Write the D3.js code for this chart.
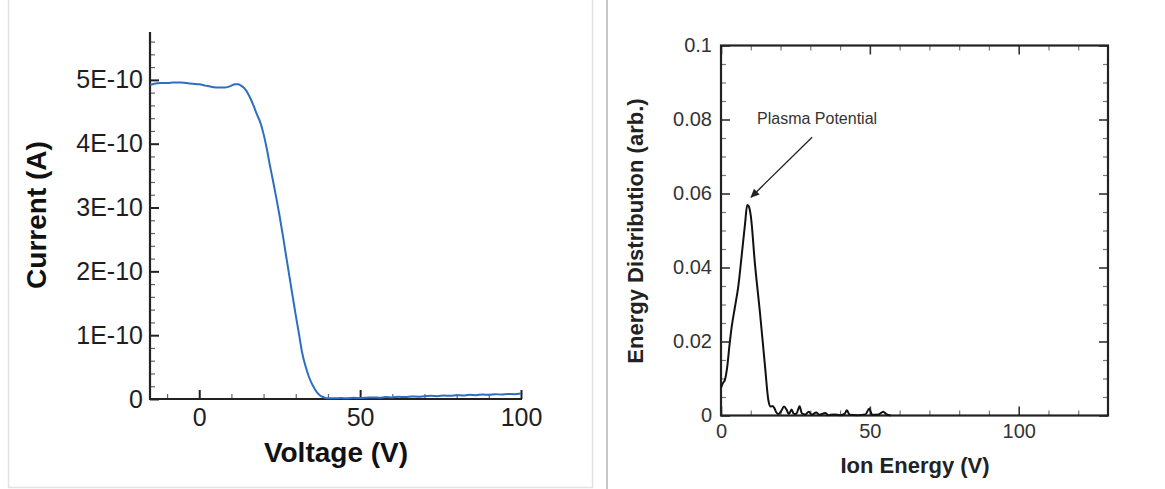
<!DOCTYPE html>
<html>
<head>
<meta charset="utf-8">
<script src="https://cdn.jsdelivr.net/npm/d3@7"></script>
<style>
  html, body { margin: 0; padding: 0; background: #fff; }
  svg { display: block; }
  text { font-family: "Liberation Sans", Arial, Helvetica, sans-serif; }
</style>
</head>
<body>
<script>
// ---- Retarding potential analyzer sweep: collector current vs. voltage ----
const voltage = [-15.3,-14,-12,-10,-8,-6,-4,-2,0,2,4,6,8,
  9,10,11,12,13,14,15,16,17,18,19,20,21,22,23,24,25,26,27,28,29,30,31,32,33,34,35,36,37,38,39,40,
  42,44,46,48,50,52,54,56,58,60,62,64,66,68,70,72,74,76,78,80,82,84,86,88,90,92,94,96,98,100];
// current in units of 1E-10 A
const current = [4.92,4.94,4.95,4.95,4.96,4.96,4.95,4.94,4.93,4.91,4.89,4.88,4.88,
  4.89,4.91,4.93,4.93,4.91,4.87,4.80,4.70,4.58,4.45,4.33,4.15,3.92,3.65,3.40,3.14,2.86,2.56,2.24,1.93,1.62,1.31,1.02,0.72,0.52,0.36,0.24,0.15,0.08,0.04,0.02,0.01,
  0.01,0.015,0.01,0.02,0.015,0.02,0.025,0.02,0.03,0.025,0.035,0.03,0.04,0.035,0.045,0.05,0.045,0.055,0.05,0.06,0.055,0.065,0.06,0.07,0.065,0.075,0.07,0.08,0.075,0.085];
const currentTicks = [0,1,2,3,4,5];
const currentTickLabels = ["0","1E-10","2E-10","3E-10","4E-10","5E-10"];
const voltageTicks = [0,50,100];

// ---- Ion energy distribution (derivative of the sweep) ----
const energy = [0,0.6,1.3,2.1,2.8,3.6,4.7,5.8,6.9,8.1,
  8.8,9.3,10.0,11.4,13.1,14.8,15.9,16.7,17.3,17.9,
  18.6,19.3,20.2,21.2,22.0,22.8,23.7,24.5,25.4,26.4,
  27.2,28.3,29.5,30.5,32.0,33.0,35.0,36.0,38.0,40.0,
  41.5,42.3,43.2,46.0,48.5,49.8,50.8,53.0,54.5,55.5,57.0];
const distribution = [0.0075,0.0087,0.0096,0.0132,0.0186,0.024,0.0294,0.0348,0.0429,0.052,
  0.0569,0.0566,0.0540,0.041,0.0277,0.0132,0.0042,0.0024,0.0026,0.0020,
  0.0008,0.0004,0.0012,0.0024,0.0016,0.0004,0.0016,0.0004,0.0006,0.0025,
  0.0005,0.0003,0.0010,0.0002,0.0008,0.0002,0.0007,0.0001,0.0003,0.0001,
  0.0004,0.0014,0.0002,0.0001,0.0003,0.0018,0.0002,0.0003,0.0010,0.0004,0.0];
const energyTicks = [0,50,100];
const distTicks = [0,0.02,0.04,0.06,0.08,0.1];
const distTickLabels = ["0","0.02","0.04","0.06","0.08","0.1"];

// annotation: label position and arrow (data units of the right panel)
const noteText = "Plasma Potential";
const notePos = [12.1, 0.0788];
const arrowFrom = [30.6, 0.0752];
const arrowTo = [10.1, 0.0590];

const W = 1165, H = 489;
const svg = d3.select("body").append("svg").attr("width", W).attr("height", H);

// panel frames
svg.append("rect").attr("x", 8.5).attr("y", -1).attr("width", 584).attr("height", 488.5)
  .attr("fill", "none").attr("stroke", "#e3e3e3").attr("stroke-width", 1.5);
svg.append("line").attr("x1", 607).attr("x2", 607).attr("y1", 0).attr("y2", H)
  .attr("stroke", "#b4b4b4").attr("stroke-width", 1.5);

function styleAxis(g, color, width) {
  g.select(".domain").remove();
  g.selectAll(".tick line").attr("stroke", color).attr("stroke-width", width);
}

// ================= Left panel =================
const xL = d3.scaleLinear().domain([-15.3, 100]).range([150, 521]);
const yL = d3.scaleLinear().domain([0, 5.75]).range([399, 32]);
const L = svg.append("g");

// minor ticks
const minorYL = d3.range(0, 5.75, 0.2).filter(v => Math.abs(v - Math.round(v)) > 1e-6);
const minorXL = d3.range(-10, 100, 10).filter(v => v % 50 !== 0);
L.append("g").attr("transform", "translate(150,0)")
  .call(d3.axisLeft(yL).tickValues(minorYL).tickSize(-5).tickFormat(""))
  .call(g => styleAxis(g, "#666", 1.2));
L.append("g").attr("transform", "translate(0,399)")
  .call(d3.axisBottom(xL).tickValues(minorXL).tickSize(-5).tickFormat(""))
  .call(g => styleAxis(g, "#666", 1.2));

// major ticks + labels
const yAxL = L.append("g").attr("transform", "translate(150,0)")
  .call(d3.axisLeft(yL).tickValues(currentTicks).tickSize(-9).tickPadding(7)
    .tickFormat((d, i) => currentTickLabels[i]));
styleAxis(yAxL, "#222", 2);
yAxL.selectAll("text").attr("font-size", 25).attr("fill", "#1e1e1e");

const xAxL = L.append("g").attr("transform", "translate(0,399)")
  .call(d3.axisBottom(xL).tickValues(voltageTicks).tickSize(-9).tickPadding(9));
styleAxis(xAxL, "#222", 2);
xAxL.selectAll("text").attr("font-size", 25).attr("fill", "#1e1e1e");

// axis lines
L.append("line").attr("x1", 150).attr("x2", 150).attr("y1", yL(5.75)).attr("y2", yL(0) + 1)
  .attr("stroke", "#222").attr("stroke-width", 2.2);
L.append("line").attr("x1", xL(-15.3) - 1).attr("x2", xL(100) + 1).attr("y1", 399).attr("y2", 399)
  .attr("stroke", "#222").attr("stroke-width", 2.2);

// curve
L.append("path")
  .datum(d3.zip(voltage, current))
  .attr("fill", "none").attr("stroke", "#2d6ec2").attr("stroke-width", 2)
  .attr("stroke-linejoin", "round")
  .attr("d", d3.line().x(d => xL(d[0])).y(d => yL(d[1])).curve(d3.curveMonotoneX));

// titles
L.append("text").attr("x", 336).attr("y", 462).attr("text-anchor", "middle")
  .attr("font-size", 28).attr("font-weight", "bold").attr("fill", "#111").text("Voltage (V)");
L.append("text").attr("transform", "translate(46,215) rotate(-90)").attr("text-anchor", "middle")
  .attr("font-size", 28).attr("font-weight", "bold").attr("fill", "#111").text("Current (A)");

// ================= Right panel =================
const xR = d3.scaleLinear().domain([0, 130]).range([721, 1108]);
const yR = d3.scaleLinear().domain([0, 0.1]).range([415.5, 45.5]);
const R = svg.append("g");

const minorXR = d3.range(10, 130, 10).filter(v => v % 50 !== 0);
const minorYR = d3.range(0.005, 0.1, 0.005).filter(v => Math.abs(v / 0.02 - Math.round(v / 0.02)) > 1e-6);

// ticks on all four sides, pointing inward
R.append("g").attr("transform", "translate(721,0)")
  .call(d3.axisLeft(yR).tickValues(minorYR).tickSize(-5).tickFormat("")).call(g => styleAxis(g, "#777", 1.2));
R.append("g").attr("transform", "translate(1108,0)")
  .call(d3.axisRight(yR).tickValues(minorYR).tickSize(-5).tickFormat("")).call(g => styleAxis(g, "#777", 1.2));
R.append("g").attr("transform", "translate(0,415.5)")
  .call(d3.axisBottom(xR).tickValues(minorXR).tickSize(-5).tickFormat("")).call(g => styleAxis(g, "#777", 1.2));
R.append("g").attr("transform", "translate(0,45.5)")
  .call(d3.axisTop(xR).tickValues(minorXR).tickSize(-5).tickFormat("")).call(g => styleAxis(g, "#777", 1.2));

const yAxR = R.append("g").attr("transform", "translate(721,0)")
  .call(d3.axisLeft(yR).tickValues(distTicks).tickSize(-9).tickPadding(9)
    .tickFormat((d, i) => distTickLabels[i]));
styleAxis(yAxR, "#333", 1.6);
yAxR.selectAll("text").attr("font-size", 20).attr("fill", "#333");
R.append("g").attr("transform", "translate(1108,0)")
  .call(d3.axisRight(yR).tickValues(distTicks).tickSize(-9).tickFormat(""))
  .call(g => styleAxis(g, "#333", 1.6));

const xAxR = R.append("g").attr("transform", "translate(0,415.5)")
  .call(d3.axisBottom(xR).tickValues(energyTicks).tickSize(-9).tickPadding(8));
styleAxis(xAxR, "#333", 1.6);
xAxR.selectAll("text").attr("font-size", 20).attr("fill", "#333");
R.append("g").attr("transform", "translate(0,45.5)")
  .call(d3.axisTop(xR).tickValues(energyTicks).tickSize(-9).tickFormat(""))
  .call(g => styleAxis(g, "#333", 1.6));

// frame
R.append("rect").attr("x", xR(0)).attr("y", yR(0.1))
  .attr("width", xR(130) - xR(0)).attr("height", yR(0) - yR(0.1))
  .attr("fill", "none").attr("stroke", "#222").attr("stroke-width", 2.2);

// distribution curve
R.append("path")
  .datum(d3.zip(energy, distribution))
  .attr("fill", "none").attr("stroke", "#111").attr("stroke-width", 2)
  .attr("stroke-linejoin", "round")
  .attr("d", d3.line().x(d => xR(d[0])).y(d => yR(d[1])).curve(d3.curveMonotoneX));

// annotation
svg.append("defs").append("marker").attr("id", "arrowhead")
  .attr("viewBox", "0 0 10 10").attr("refX", 9).attr("refY", 5)
  .attr("markerWidth", 9).attr("markerHeight", 9).attr("markerUnits", "userSpaceOnUse")
  .attr("orient", "auto")
  .append("path").attr("d", "M0,0.5 L10,5 L0,9.5 Z").attr("fill", "#222");
R.append("line")
  .attr("x1", xR(arrowFrom[0])).attr("y1", yR(arrowFrom[1]))
  .attr("x2", xR(arrowTo[0])).attr("y2", yR(arrowTo[1]))
  .attr("stroke", "#222").attr("stroke-width", 1.3).attr("marker-end", "url(#arrowhead)");
R.append("text").attr("x", xR(notePos[0])).attr("y", yR(notePos[1]))
  .attr("font-size", 16).attr("fill", "#333").text(noteText);

// titles
R.append("text").attr("x", 915).attr("y", 473).attr("text-anchor", "middle")
  .attr("font-size", 22).attr("font-weight", "bold").attr("fill", "#222").text("Ion Energy (V)");
R.append("text").attr("transform", "translate(643,231) rotate(-90)").attr("text-anchor", "middle")
  .attr("font-size", 22).attr("font-weight", "bold").attr("fill", "#222").text("Energy Distribution (arb.)");
</script>
</body>
</html>
